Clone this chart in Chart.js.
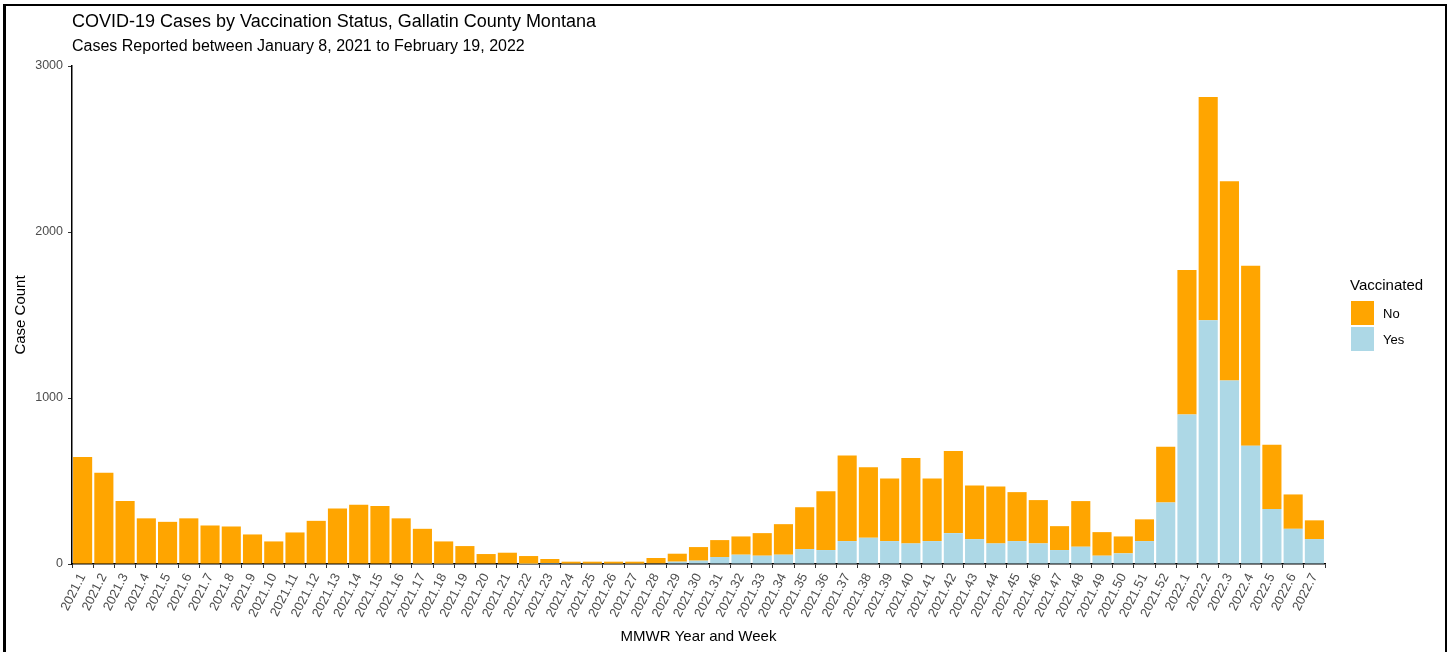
<!DOCTYPE html>
<html>
<head>
<meta charset="utf-8">
<script src="https://cdn.jsdelivr.net/npm/chart.js@4/dist/chart.umd.min.js"></script>
<style>
  html, body { margin: 0; padding: 0; background: #fff; }
  #wrap { position: relative; width: 1448px; height: 652px; overflow: hidden; }
  #frame { position: absolute; left: 3px; top: 4px; width: 1444px; height: 700px;
           box-sizing: border-box; border: 2px solid #000; border-left-width: 3px; pointer-events: none; }
</style>
</head>
<body>
<div id="wrap">
  <canvas id="chart" width="1448" height="652"></canvas>
  <div id="frame"></div>
</div>
<script>
// MMWR year.week labels, Jan 2021 - Feb 2022
const weeks = [
  '2021.1', '2021.2', '2021.3', '2021.4', '2021.5', '2021.6', '2021.7', '2021.8', '2021.9', '2021.10',
  '2021.11', '2021.12', '2021.13', '2021.14', '2021.15', '2021.16', '2021.17', '2021.18', '2021.19', '2021.20',
  '2021.21', '2021.22', '2021.23', '2021.24', '2021.25', '2021.26', '2021.27', '2021.28', '2021.29', '2021.30',
  '2021.31', '2021.32', '2021.33', '2021.34', '2021.35', '2021.36', '2021.37', '2021.38', '2021.39', '2021.40',
  '2021.41', '2021.42', '2021.43', '2021.44', '2021.45', '2021.46', '2021.47', '2021.48', '2021.49', '2021.50',
  '2021.51', '2021.52', '2022.1', '2022.2', '2022.3', '2022.4', '2022.5', '2022.6', '2022.7'
];

// cases among vaccinated (bottom of stack)
const vaccinatedYes = [
  0, 0, 0, 0, 0, 0, 0, 0, 0, 0,
  0, 0, 0, 0, 0, 0, 2, 2, 0, 0,
  0, 1, 6, 2, 2, 2, 2, 4, 14, 20,
  42, 56, 50, 56, 90, 84, 138, 158, 138, 124,
  138, 186, 150, 124, 138, 124, 84, 104, 50, 64,
  138, 371, 900, 1468, 1106, 713, 331, 212, 150
];

// cases among unvaccinated (top of stack)
const vaccinatedNo = [
  645, 549, 379, 275, 254, 275, 232, 226, 178, 136,
  190, 260, 335, 357, 349, 275, 210, 134, 108, 60,
  68, 47, 24, 12, 12, 12, 12, 32, 48, 82,
  102, 110, 136, 184, 252, 355, 515, 425, 377, 515,
  377, 494, 323, 343, 295, 261, 144, 275, 142, 102,
  131, 336, 871, 1345, 1200, 1084, 388, 207, 113
];

const yTicks = [0, 1000, 2000, 3000];

const titleText = 'COVID-19 Cases by Vaccination Status, Gallatin County Montana';
const subtitleText = 'Cases Reported between January 8, 2021 to February 19, 2022';
const legendTitle = 'Vaccinated';

const FONT = '"Liberation Sans", Arial, sans-serif';
const ORANGE = '#FFA500';
const LIGHTBLUE = '#ADD8E6';

// titles + ggplot-style legend drawn on top of the chart
const decorations = {
  id: 'decorations',
  afterDraw(chart) {
    const ctx = chart.ctx;
    const area = chart.chartArea;
    ctx.save();
    ctx.fillStyle = '#000';
    ctx.textAlign = 'left';
    ctx.textBaseline = 'middle';
    ctx.font = '18px ' + FONT;
    ctx.fillText(titleText, area.left, 22);
    ctx.font = '16px ' + FONT;
    ctx.fillText(subtitleText, area.left, 47);

    // legend: No on top, Yes below
    const lx = 1350, ly = 286;
    ctx.font = '15px ' + FONT;
    ctx.fillText(legendTitle, lx, ly);
    const items = [chart.data.datasets[1], chart.data.datasets[0]];
    items.forEach((ds, i) => {
      const y0 = 301 + i * 26;
      ctx.fillStyle = ds.backgroundColor;
      ctx.fillRect(lx + 1, y0, 23, 24);
      ctx.fillStyle = '#000';
      ctx.font = '13px ' + FONT;
      ctx.fillText(ds.label, lx + 33, y0 + 13);
    });
    ctx.restore();
  }
};

new Chart(document.getElementById('chart'), {
  type: 'bar',
  data: {
    labels: weeks,
    datasets: [
      { label: 'Yes', data: vaccinatedYes, backgroundColor: LIGHTBLUE, borderWidth: 0 },
      { label: 'No', data: vaccinatedNo, backgroundColor: ORANGE, borderWidth: 0 }
    ]
  },
  options: {
    responsive: false,
    animation: false,
    events: [],
    categoryPercentage: 1,
    barPercentage: 0.9,
    layout: { padding: { top: 66, right: 123, left: 0, bottom: 0 } },
    scales: {
      x: {
        stacked: true,
        grid: { drawOnChartArea: false, drawTicks: true, tickLength: 4, tickColor: '#333' },
        border: { color: '#000', width: 1.5 },
        ticks: {
          autoSkip: false, minRotation: 63, maxRotation: 63, padding: 3,
          color: '#4d4d4d', font: { family: FONT, size: 13 }
        },
        title: {
          display: true, text: 'MMWR Year and Week', color: '#000',
          font: { family: FONT, size: 15 }, padding: { top: 0, bottom: 6 }
        },
        afterFit(scale) { scale.height = 88; }
      },
      y: {
        stacked: true,
        min: 0,
        max: 3000,
        afterBuildTicks(scale) { scale.ticks = yTicks.map(v => ({ value: v })); },
        grid: { drawOnChartArea: false, drawTicks: true, tickLength: 4, tickColor: '#333' },
        border: { color: '#000', width: 1.5 },
        ticks: {
          padding: 5, color: '#4d4d4d', font: { family: FONT, size: 12.5 },
          callback: v => String(v)
        },
        title: {
          display: true, text: 'Case Count', color: '#000',
          font: { family: FONT, size: 15 }, padding: { top: 12, bottom: 0 }
        },
        afterFit(scale) { scale.width = 72; }
      }
    },
    plugins: {
      legend: { display: false },
      tooltip: { enabled: false },
      title: { display: false }
    }
  },
  plugins: [decorations]
});
</script>
</body>
</html>
